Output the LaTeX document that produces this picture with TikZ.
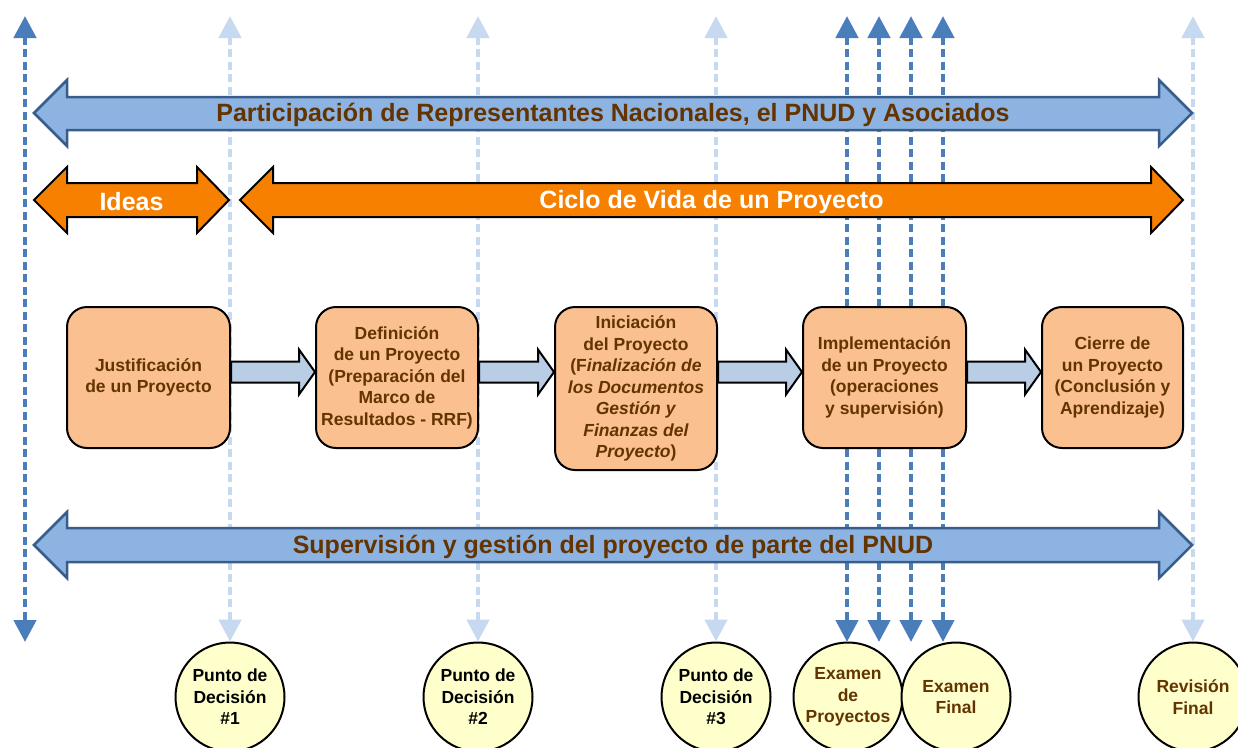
\documentclass[tikz,border=0pt]{standalone}
\usepackage{fontspec}
\setmainfont{Liberation Sans}
\usetikzlibrary{arrows.meta,calc}

\definecolor{darkline}{RGB}{74,126,187}
\definecolor{lightline}{RGB}{198,217,241}
\definecolor{bandblue}{RGB}{141,179,226}
\definecolor{bandedge}{RGB}{56,93,138}
\definecolor{bandorange}{RGB}{247,128,0}
\definecolor{boxfill}{RGB}{250,192,144}
\definecolor{linkfill}{RGB}{185,205,229}
\definecolor{circfill}{RGB}{255,255,204}
\definecolor{textbrown}{RGB}{99,51,0}

\begin{document}
\begin{tikzpicture}[x=1pt, y=-1pt,
    >={Triangle[width=22pt,length=22pt]},
    phase/.style={draw=black, line width=2pt, fill=boxfill, rounded corners=20pt,
        minimum width=162pt, minimum height=141pt, inner sep=2pt, align=center,
        text=textbrown, font=\fontsize{17.5}{21.5}\selectfont\bfseries},
    review/.style={circle, draw=black, line width=2pt, fill=circfill,
        minimum size=109pt, inner sep=0pt, align=center,
        font=\fontsize{17.5}{21.5}\selectfont\bfseries},
    band/.style={draw=bandedge, line width=2.5pt, fill=bandblue},
    stage/.style={draw=black, line width=2pt, fill=bandorange},
    bandtext/.style={font=\fontsize{25}{30}\selectfont\bfseries, text=textbrown, yshift=-2pt},
    stagetext/.style={font=\fontsize{25}{30}\selectfont\bfseries, text=white, yshift=-2pt},
    link/.style={draw=black, line width=2pt, fill=linkfill},
    darkdash/.style={draw=darkline, line width=4.5pt, dash pattern=on 8pt off 4.5pt, <->},
    lightdash/.style={draw=lightline, line width=4.5pt, dash pattern=on 8pt off 4.5pt, <->}
]
    \useasboundingbox (0,0) rectangle (1238,747);
    \clip (0,0) rectangle (1238,747);

    % decision and review points
    \node[review] (pd1) at (230,697) {Punto de\\Decisión\\\#1};
    \node[review] (pd2) at (478,697) {Punto de\\Decisión\\\#2};
    \node[review] (pd3) at (716,697) {Punto de\\Decisión\\\#3};
    \node[review, text=textbrown] (ep) at (848,697) {Examen\\de\\Proyectos};
    \node[review, text=textbrown] (ef) at (956,697) {Examen\\Final};
    \node[review, text=textbrown] (rf) at (1193,697) {Revisión\\Final};

    % dashed guides
    \coordinate (t0) at (25,16);
    \coordinate (b0) at (25,642);
    \draw[darkdash] (t0) -- (b0);
    \foreach \x/\n in {230/pd1, 478/pd2, 716/pd3, 1193/rf} {
        \coordinate (t-\n) at (\x,16);
        \draw[lightdash] (t-\n) -- (\n.north);
    }
    \foreach \x [count=\k] in {847,879,911,943} {
        \coordinate (ta\k) at (\x,16);
        \coordinate (ba\k) at (\x,642);
        \draw[darkdash] (ta\k) -- (ba\k);
    }

    % bands
    \draw[band] (34,113) -- (67,80) -- (67,97) -- (1159,97) -- (1159,80) -- (1192,113)
        -- (1159,146) -- (1159,130) -- (67,130) -- (67,146) -- cycle;
    \node[bandtext] (part) at (613,113) {Participación de Representantes Nacionales, el PNUD y Asociados};
    \draw[stage] (34,200) -- (67,167) -- (67,183) -- (197,183) -- (197,167) -- (229,200)
        -- (197,233) -- (197,217) -- (67,217) -- (67,233) -- cycle;
    \node[stagetext] (ideas) at (131.5,200) {Ideas};
    \draw[stage] (240,200) -- (273,167) -- (273,183) -- (1151,183) -- (1151,167) -- (1183,200)
        -- (1151,233) -- (1151,217) -- (273,217) -- (273,233) -- cycle;
    \node[stagetext] (ciclo) at (711.5,200) {Ciclo de Vida de un Proyecto};
    \draw[band] (34,545) -- (67,512) -- (67,528) -- (1159,528) -- (1159,512) -- (1192,545)
        -- (1159,578) -- (1159,562) -- (67,562) -- (67,578) -- cycle;
    \node[bandtext] (sup) at (613,545) {Supervisión y gestión del proyecto de parte del PNUD};

    % phases
    \node[phase, minimum width=163pt] (j) at (148.5,377.5) {Justificación\\de un Proyecto};
    \node[phase] (d) at (397,377.5) {Definición\\de un Proyecto\\(Preparación del\\Marco de\\Resultados - RRF)};
    \node[phase, minimum height=163pt] (i) at (636,388.5) {Iniciación\\del Proyecto\\(F\textit{inalización de}\\\textit{los Documentos}\\\textit{Gestión y}\\\textit{Finanzas del}\\\textit{Proyecto})};
    \node[phase, minimum width=163pt] (im) at (884.5,377.5) {Implementación\\de un Proyecto\\(operaciones\\y supervisión)};
    \node[phase, minimum width=141pt] (c) at (1112.5,377.5) {Cierre de\\un Proyecto\\(Conclusión y\\Aprendizaje)};

    % links between phases
    \foreach \a/\b in {j/d, d/i, i/im, im/c} {
        \draw[link] let \p1=(\a.east), \p2=(\b.west) in
            (\x1,361.5) -- (\x2-16,361.5) -- (\x2-16,349.5) -- (\x2,372)
            -- (\x2-16,394.5) -- (\x2-16,382.5) -- (\x1,382.5) -- cycle;
    }
\end{tikzpicture}
\end{document}
